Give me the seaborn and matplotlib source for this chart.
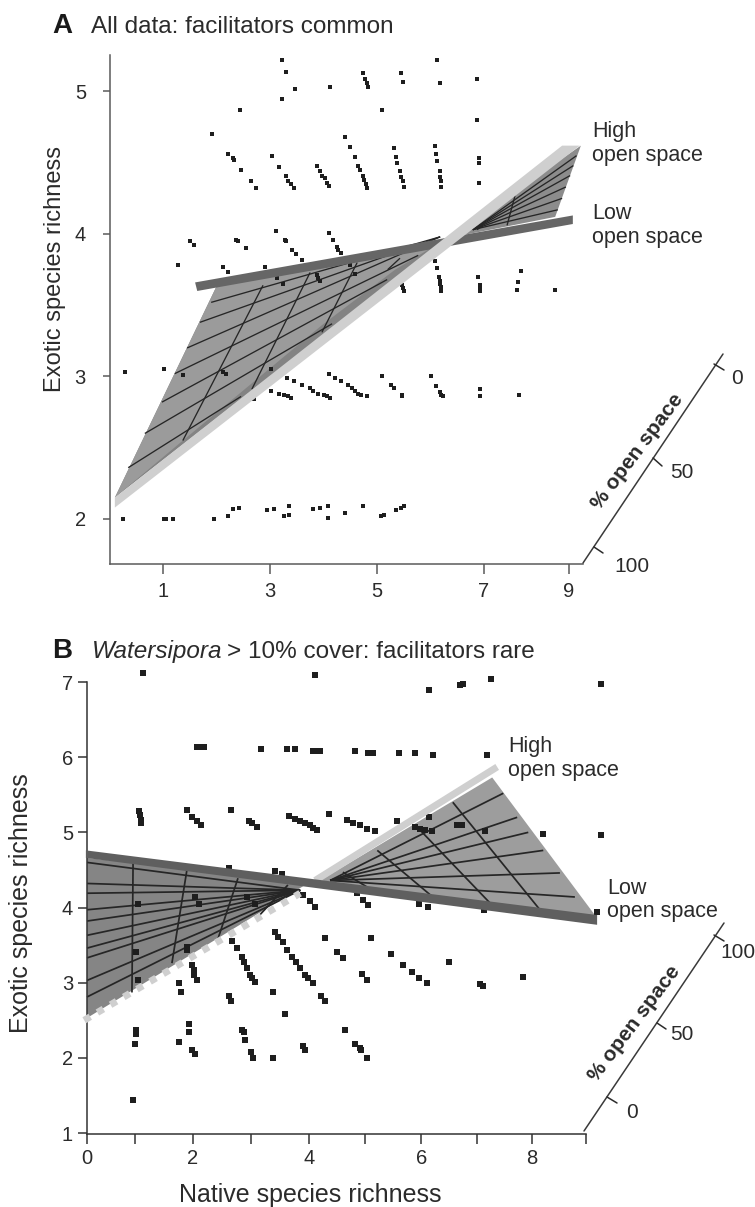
"""Exotic vs native species richness at high and low open space (panels A and B)."""

import matplotlib.pyplot as plt
import pandas as pd
import seaborn as sns

W, H = 755, 1207
INK = "#2b2b2b"

# Panel A points, one list pair per exotic richness band
a_native_5 = [3.22, 3.30, 3.47, 3.22, 2.43, 1.91, 4.13, 4.74, 4.78, 4.81, 4.83, 5.09, 4.40, 5.44, 5.48, 6.13, 6.18, 6.87, 6.87]
a_exotic_5 = [5.22, 5.14, 5.02, 4.95, 4.87, 4.70, 5.03, 5.13, 5.09, 5.06, 5.03, 4.87, 4.68, 5.13, 5.07, 5.22, 5.06, 5.09, 4.80]
a_native_45 = [2.22, 2.30, 2.33, 2.45, 2.65, 2.74, 3.04, 3.16, 3.29, 3.34, 3.39, 3.44, 3.88, 3.93, 3.98, 4.02, 4.06, 4.10,
               4.50, 4.59, 4.64, 4.68, 4.73, 4.76, 4.79, 4.82, 5.31, 5.35, 5.38, 5.43, 5.45, 5.48, 5.51,
               6.08, 6.10, 6.13, 6.17, 6.18, 6.19, 6.20, 6.90, 6.90, 6.90]
a_exotic_45 = [4.56, 4.53, 4.52, 4.45, 4.37, 4.32, 4.55, 4.47, 4.41, 4.37, 4.35, 4.32, 4.48, 4.44, 4.41, 4.39, 4.36, 4.34,
               4.61, 4.54, 4.48, 4.45, 4.41, 4.38, 4.35, 4.32, 4.60, 4.54, 4.50, 4.44, 4.40, 4.37, 4.33,
               4.62, 4.56, 4.51, 4.44, 4.40, 4.37, 4.33, 4.53, 4.50, 4.36]
a_native_4 = [1.50, 1.58, 2.37, 2.40, 2.55, 1.28, 2.13, 2.22, 2.91, 3.12, 3.28, 3.30, 3.41, 3.49, 3.59, 3.14, 3.24,
              4.10, 4.17, 4.25, 4.28, 4.32, 3.87, 3.90, 3.93, 4.50, 4.59, 6.08, 6.12, 6.15, 6.18, 6.89, 7.69,
              5.46, 5.48, 5.50, 6.17, 6.19, 6.20, 6.93, 6.93, 6.93, 7.64, 7.61, 8.33]
a_exotic_4 = [3.95, 3.92, 3.96, 3.95, 3.90, 3.78, 3.77, 3.73, 3.77, 4.02, 3.96, 3.95, 3.89, 3.86, 3.82, 3.69, 3.65,
              4.01, 3.96, 3.91, 3.89, 3.87, 3.71, 3.69, 3.67, 3.78, 3.72, 3.81, 3.76, 3.70, 3.65, 3.70, 3.74,
              3.64, 3.62, 3.60, 3.67, 3.63, 3.60, 3.64, 3.62, 3.60, 3.66, 3.61, 3.61]
a_native_3 = [0.29, 1.01, 1.38, 2.13, 2.18, 3.01, 3.31, 3.44, 3.60, 3.01, 2.71, 3.17, 3.26, 3.34, 3.40,
              3.74, 3.81, 3.90, 4.00, 4.06, 4.13, 4.10, 4.22, 4.33, 4.46, 4.53, 4.59, 4.65, 4.71, 4.81,
              5.09, 5.27, 5.32, 5.46, 5.47, 6.00, 6.10, 6.17, 6.19, 6.23, 6.93, 6.93, 7.66]
a_exotic_3 = [3.03, 3.05, 3.01, 3.03, 3.02, 3.05, 2.99, 2.97, 2.94, 2.90, 2.84, 2.88, 2.87, 2.86, 2.85,
              2.92, 2.90, 2.88, 2.87, 2.86, 2.85, 3.02, 2.99, 2.97, 2.94, 2.92, 2.90, 2.88, 2.87, 2.86,
              3.00, 2.94, 2.92, 2.87, 2.86, 3.00, 2.93, 2.89, 2.87, 2.86, 2.91, 2.86, 2.87]
a_native_2 = [0.25, 1.01, 1.06, 1.19, 1.95, 2.22, 2.30, 2.42, 2.94, 3.07, 3.36, 3.26, 3.36, 3.81, 3.93, 4.08, 4.08, 4.40, 4.73, 5.07, 5.13, 5.36, 5.45, 5.50]
a_exotic_2 = [2.00, 2.00, 2.00, 2.00, 2.00, 2.02, 2.07, 2.08, 2.06, 2.07, 2.09, 2.02, 2.03, 2.07, 2.08, 2.09, 2.01, 2.04, 2.09, 2.02, 2.03, 2.06, 2.08, 2.09]

# Panel B points
b_native_7 = [1.01, 4.11, 6.16, 6.72, 6.78, 7.28, 9.26]
b_exotic_7 = [7.12, 7.09, 6.90, 6.96, 6.98, 7.04, 6.98]
b_native_6 = [1.98, 2.04, 2.10, 3.13, 3.60, 3.75, 4.07, 4.14, 4.20, 4.83, 5.07, 5.16, 5.62, 5.91, 6.23, 7.21]
b_exotic_6 = [6.13, 6.13, 6.13, 6.11, 6.11, 6.11, 6.08, 6.08, 6.08, 6.08, 6.05, 6.05, 6.05, 6.05, 6.03, 6.03]
b_native_5 = [0.94, 0.96, 0.97, 0.97, 1.80, 1.90, 1.98, 2.05, 2.59, 2.92, 2.98, 3.06, 3.64, 3.75, 3.84, 3.93, 4.02, 4.08, 4.15,
              4.36, 4.68, 4.80, 4.92, 5.04, 5.19, 5.58, 5.91, 6.00, 6.09, 6.21, 6.66, 6.71, 6.76, 7.17, 6.16, 8.22, 9.26]
b_exotic_5 = [5.28, 5.23, 5.17, 5.12, 5.30, 5.21, 5.15, 5.10, 5.30, 5.15, 5.12, 5.07, 5.22, 5.18, 5.15, 5.12, 5.10, 5.06, 5.03,
              5.25, 5.17, 5.13, 5.10, 5.05, 5.02, 5.15, 5.07, 5.05, 5.03, 5.02, 5.10, 5.10, 5.10, 5.02, 5.20, 4.98, 4.96]
b_native_4 = [0.92, 1.95, 2.01, 2.55, 3.39, 3.51, 2.88, 3.03, 3.90, 4.02, 4.11, 4.86, 4.98, 5.07, 5.99, 6.15, 7.16, 9.19]
b_exotic_4 = [4.05, 4.14, 4.05, 4.52, 4.48, 4.44, 4.14, 4.05, 4.16, 4.08, 4.01, 4.19, 4.10, 4.03, 4.05, 4.01, 3.97, 3.94]
b_native_3 = [0.89, 0.92, 1.80, 1.81, 1.90, 1.92, 1.93, 1.98, 1.66, 1.69, 2.62, 2.70, 2.79, 2.83, 2.88, 2.94, 2.98, 3.03,
              2.56, 2.59, 3.35, 3.57, 3.39, 3.45, 3.53, 3.61, 3.69, 3.76, 3.84, 3.93, 3.99, 4.07, 4.22, 4.29,
              4.29, 5.12, 4.50, 4.61, 4.95, 5.04, 5.48, 5.69, 5.85, 5.99, 6.13, 6.52, 7.08, 7.14, 7.85]
b_exotic_3 = [3.41, 3.03, 3.48, 3.43, 3.23, 3.17, 3.10, 3.04, 2.99, 2.88, 3.55, 3.46, 3.34, 3.28, 3.19, 3.10, 3.06, 3.01,
              2.82, 2.75, 2.88, 2.59, 3.68, 3.61, 3.54, 3.43, 3.34, 3.28, 3.19, 3.10, 3.06, 2.99, 2.82, 2.75,
              3.60, 3.60, 3.41, 3.33, 3.11, 3.04, 3.38, 3.23, 3.14, 3.06, 2.99, 3.28, 2.98, 2.96, 3.07]
b_native_2 = [1.84, 1.84, 1.66, 1.90, 1.95, 0.89, 0.89, 0.86, 0.82, 2.79, 2.82, 2.85, 2.95, 2.99, 3.35, 3.89, 3.93, 4.65, 4.83, 4.91, 4.94, 5.05]
b_exotic_2 = [2.45, 2.34, 2.21, 2.10, 2.05, 2.37, 2.32, 2.18, 1.44, 2.37, 2.35, 2.24, 2.08, 2.00, 2.00, 2.16, 2.10, 2.37, 2.18, 2.13, 2.10, 2.00]

# Fitted surfaces, corners in (native, exotic)
a_surface_back = [(0.10, 2.15), (2.01, 3.64), (6.31, 3.97)]
a_surface_grid = [(0.10, 2.15), (2.01, 3.64), (6.31, 3.97), (5.34, 3.75), (3.97, 3.36), (1.37, 2.55)]
a_surface_right = [(6.31, 3.97), (8.81, 4.62), (8.33, 4.12)]
a_high_band = [(0.10, 2.15), (8.46, 4.62), (8.79, 4.62), (0.10, 2.08)]
a_low_band = [(1.60, 3.66), (8.66, 4.13), (8.66, 4.07), (1.64, 3.60)]
a_grid = [
    ((0.35, 2.36), (2.46, 2.86)), ((0.66, 2.60), (4.16, 3.37)), ((0.98, 2.82), (5.19, 3.68)),
    ((1.22, 3.02), (5.77, 3.85)), ((1.45, 3.20), (6.18, 3.98)), ((1.69, 3.38), (6.18, 3.98)),
    ((1.90, 3.52), (6.18, 3.98)),
    ((2.87, 3.64), (1.37, 2.55)), ((3.75, 3.73), (2.66, 2.91)), ((4.63, 3.80), (3.97, 3.31)),
    ((5.43, 3.83), (5.20, 3.75)),
    ((8.73, 4.55), (6.79, 4.03)), ((8.67, 4.48), (6.79, 4.03)), ((8.61, 4.41), (6.79, 4.03)),
    ((8.53, 4.33), (6.79, 4.03)), ((8.46, 4.25), (6.79, 4.03)), ((8.38, 4.17), (6.79, 4.03)),
    ((7.58, 4.27), (7.43, 4.06)), ((6.98, 4.06), (6.87, 4.03)),
]

b_surface_left = [(0.0, 4.66), (0.0, 2.53), (4.02, 4.34)]
b_surface_right = [(4.20, 4.36), (7.30, 5.73), (9.19, 3.86)]
b_low_band = [(-0.02, 4.76), (9.19, 3.90), (9.19, 3.77), (-0.02, 4.66)]
b_high_solid_native = [4.11, 7.39]
b_high_solid_exotic = [4.36, 5.87]
b_high_dotted_native = [-0.05, 3.84]
b_high_dotted_exotic = [2.50, 4.19]
b_grid = [
    ((0.0, 4.60), (3.84, 4.23)), ((0.0, 4.32), (3.84, 4.23)), ((0.0, 4.19), (3.84, 4.23)),
    ((0.0, 3.97), (3.84, 4.23)), ((0.0, 3.82), (3.84, 4.23)), ((0.0, 3.63), (3.84, 4.23)),
    ((0.0, 3.46), (3.84, 4.23)), ((0.0, 3.33), (3.84, 4.23)), ((0.0, 3.03), (3.84, 4.23)),
    ((0.0, 2.81), (3.84, 4.23)),
    ((0.83, 4.59), (0.81, 2.87)), ((1.80, 4.50), (1.53, 3.26)), ((2.72, 4.39), (2.34, 3.54)),
    ((3.62, 4.30), (3.06, 3.86)),
    ((7.50, 5.52), (4.38, 4.36)), ((7.75, 5.20), (4.38, 4.36)), ((7.95, 5.00), (4.38, 4.36)),
    ((8.22, 4.76), (4.38, 4.36)), ((8.52, 4.46), (4.38, 4.36)), ((8.79, 4.14), (4.38, 4.36)),
    ((6.59, 5.40), (8.16, 3.97)), ((5.91, 5.10), (7.26, 4.06)), ((5.23, 4.76), (6.23, 4.14)),
    ((4.61, 4.47), (5.05, 4.27)),
]

a_xticks = [1, 3, 5, 7, 8.59]
a_xticklabels = ["1", "3", "5", "7", "9"]
a_yticks = [2, 3, 4, 5]
b_xticks = [0, 0.86, 1.91, 2.95, 4, 5.01, 6.02, 7.03, 8.02, 8.99]
b_xticklabels = ["0", "", "2", "", "4", "", "6", "", "8", ""]
b_yticks = [1, 2, 3, 4, 5, 6, 7]


def make_axes(fig, left, right, top, bottom):
    """Axes placed by pixel box of the reference."""
    ax = fig.add_axes([left / W, 1 - bottom / H, (right - left) / W, (bottom - top) / H])
    ax.patch.set_alpha(0)
    return ax


def draw_points(ax, native, exotic, size):
    df = pd.DataFrame({"native": native, "exotic": exotic})
    sns.scatterplot(data=df, x="native", y="exotic", ax=ax, marker="s", s=size, color="#1e1e1e",
                    linewidth=0, clip_on=False, zorder=3, legend=False)


def draw_grid(ax, segments, lw):
    for (x0, y0), (x1, y1) in segments:
        ax.plot([x0, x1], [y0, y1], color="#262626", lw=lw, zorder=2.5, solid_capstyle="butt", clip_on=False)


def fill(ax, corners, color, zorder=2):
    xs, ys = zip(*corners)
    ax.fill(xs, ys, color=color, lw=0, zorder=zorder, clip_on=False)


def style_axes(ax, spine_color, x_len, x_pad, y_len, y_pad):
    sns.despine(ax=ax)
    for side in ["left", "bottom"]:
        ax.spines[side].set_color(spine_color)
        ax.spines[side].set_linewidth(1.1)
    ax.tick_params(labelcolor=INK, labelsize=14.5, width=1.1, color=spine_color)
    ax.tick_params(axis="x", length=x_len, pad=x_pad)
    ax.tick_params(axis="y", length=y_len, pad=y_pad)
    ax.set_xlabel("")
    ax.set_ylabel("")


def depth_axis(over, line, ticks, labels):
    over.plot([line[0][0], line[1][0]], [line[0][1], line[1][1]], color="#3a3a3a", lw=1.1)
    for (x0, y0, x1, y1) in ticks:
        over.plot([x0, x1], [y0, y1], color="#2b2b2b", lw=1.1)
    for (x, y, s) in labels:
        over.text(x, y, s, ha="center", va="center", fontsize=15, color=INK)


def main():
    sns.set_theme(style="ticks")
    plt.rcParams["font.family"] = ["Liberation Sans", "DejaVu Sans"]

    fig = plt.figure(figsize=(W / 100, H / 100), dpi=100)

    # Panel A
    ax_a = make_axes(fig, 109.5, 583, 55, 564)
    fill(ax_a, a_surface_back, "#838383")
    fill(ax_a, a_surface_grid, "#9b9b9b", zorder=2.1)
    fill(ax_a, a_surface_right, "#8c8c8c", zorder=2.1)
    draw_grid(ax_a, a_grid, 0.95)
    draw_points(ax_a, a_native_5 + a_native_45 + a_native_4 + a_native_3 + a_native_2,
                a_exotic_5 + a_exotic_45 + a_exotic_4 + a_exotic_3 + a_exotic_2, 6)
    fill(ax_a, a_low_band, "#666666", zorder=4)
    fill(ax_a, a_high_band, "#cfcfcf", zorder=4.1)
    ax_a.set_xlim(0, 8.85)
    ax_a.set_ylim(1.684, 5.256)
    ax_a.set_xticks(a_xticks, a_xticklabels)
    ax_a.set_yticks(a_yticks)
    style_axes(ax_a, "#5a5a5a", x_len=7, x_pad=6, y_len=5, y_pad=12)

    # Panel B
    ax_b = make_axes(fig, 87, 586, 682, 1134)
    fill(ax_b, b_surface_left, "#858585")
    fill(ax_b, b_surface_right, "#9d9d9d")
    draw_grid(ax_b, b_grid, 1.25)
    draw_points(ax_b, b_native_7 + b_native_6 + b_native_5 + b_native_4 + b_native_3 + b_native_2,
                b_exotic_7 + b_exotic_6 + b_exotic_5 + b_exotic_4 + b_exotic_3 + b_exotic_2, 14)
    fill(ax_b, b_low_band, "#5f5f5f", zorder=4)
    ax_b.plot(b_high_solid_native, b_high_solid_exotic, color="#cfcfcf", lw=5, zorder=3.8,
              solid_capstyle="butt", clip_on=False)
    ax_b.plot(b_high_dotted_native, b_high_dotted_exotic, color="#cfcfcf", lw=5, zorder=3.8,
              linestyle=(0, (1, 1.2)), dash_capstyle="butt", clip_on=False)
    ax_b.set_xlim(0, 8.99)
    ax_b.set_ylim(0.987, 7.0)
    ax_b.set_xticks(b_xticks, b_xticklabels)
    ax_b.set_yticks(b_yticks)
    style_axes(ax_b, "#333333", x_len=7, x_pad=4, y_len=6.5, y_pad=3.5)

    # Overlay in reference pixels for labels and the oblique open space axes
    over = fig.add_axes([0, 0, 1, 1], zorder=10)
    over.set_xlim(0, W)
    over.set_ylim(H, 0)
    over.axis("off")

    depth_axis(over, ((583, 563), (723, 354)),
               [(594, 547, 603, 553), (653, 458, 662, 466), (714, 364, 724, 370)],
               [(632, 566, "100"), (682, 472, "50"), (737, 379, "0")])
    depth_axis(over, ((584, 1131), (724, 923)),
               [(607, 1097, 617, 1103), (657, 1023, 666, 1029), (714, 935, 724, 941)],
               [(632, 1113, "0"), (682, 1035, "50"), (738, 952, "100")])
    for x, y in [(637, 452), (634, 1024)]:
        over.text(x, y, "% open space", rotation=53, rotation_mode="anchor", ha="center", va="center",
                  fontsize=15, fontweight="bold", color=INK)

    over.text(52, 33, "A", fontsize=20, fontweight="bold", color="#1a1a1a", va="baseline")
    over.text(91, 33, "All data: facilitators common", fontsize=17.5, color=INK, va="baseline")
    over.text(52, 658, "B", fontsize=20, fontweight="bold", color="#1a1a1a", va="baseline")
    over.text(92, 658, "Watersipora", fontsize=17.5, style="italic", color=INK, va="baseline")
    over.text(227, 658, "> 10% cover: facilitators rare", fontsize=17.5, color=INK, va="baseline")

    for x, y, s in [(592, 137, "High"), (592, 161, "open space"), (592, 219, "Low"), (592, 243, "open space"),
                    (508, 752, "High"), (508, 776, "open space"), (607, 894, "Low"), (607, 917, "open space")]:
        over.text(x, y, s, fontsize=15.5, color=INK, va="baseline")

    over.text(55, 269, "Exotic species richness", rotation=90, ha="center", va="center", fontsize=17, color=INK)
    over.text(21, 903, "Exotic species richness", rotation=90, ha="center", va="center", fontsize=18, color=INK)
    over.text(310, 1195, "Native species richness", ha="center", va="center", fontsize=18, color=INK)

    plt.savefig("out.png", dpi=100)
    plt.close(fig)


if __name__ == "__main__":
    main()
